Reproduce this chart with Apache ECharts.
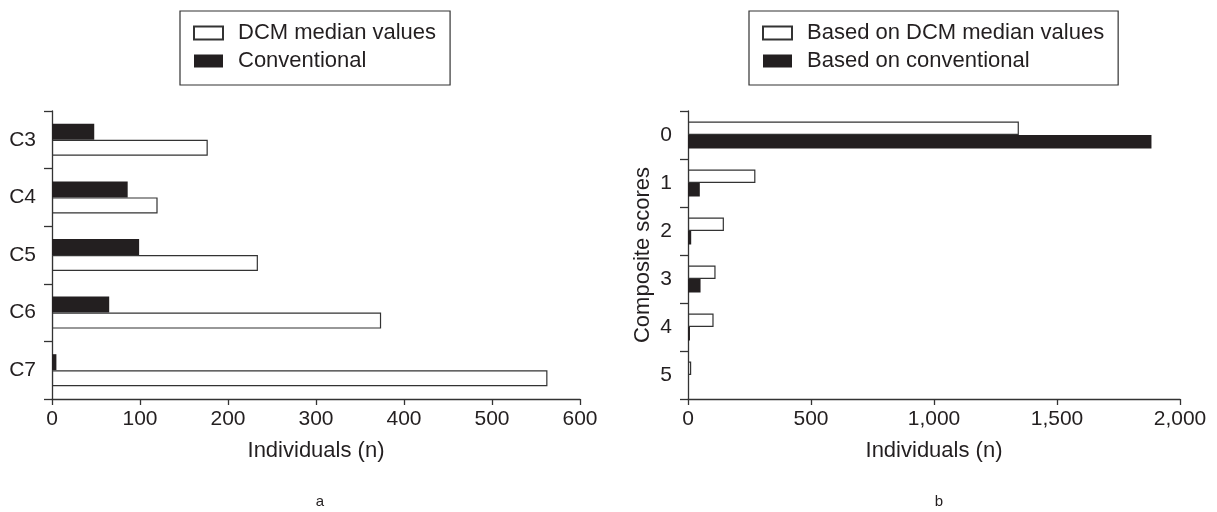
<!DOCTYPE html>
<html><head><meta charset="utf-8">
<script src="https://cdn.jsdelivr.net/npm/echarts@6/dist/echarts.min.js"></script>
<style>html,body{margin:0;padding:0;background:#fff}#c{width:1217px;height:512px}</style>
</head><body><div id="c"></div>
<script>
// Panel a
const catsA = ['C3', 'C4', 'C5', 'C6', 'C7'];
const dcmA = [177, 120, 234, 374, 563];
const convA = [48, 86, 99, 65, 5];
const xTicksA = [0, 100, 200, 300, 400, 500, 600];
// Panel b
const catsB = ['0', '1', '2', '3', '4', '5'];
const dcmB = [1345, 274, 146, 112, 104, 13];
const convB = [1884, 48, 13, 51, 8, 0];
const xTicksB = [0, 500, 1000, 1500, 2000];

const FONT = 'Liberation Sans';
const TXT = '#231f20';
const LINE = '#333333';
const BLACK = '#231f20';

const chart = echarts.init(document.getElementById('c'), null, {renderer: 'canvas'});

function xAxisFor(idx, ticks, fmt) {
  return {
    gridIndex: idx, type: 'value', min: ticks[0], max: ticks[ticks.length - 1],
    interval: ticks[1] - ticks[0],
    name: 'Individuals (n)', nameLocation: 'middle', nameGap: 41,
    nameTextStyle: {fontFamily: FONT, fontSize: 22, color: TXT},
    axisLine: {show: true, lineStyle: {color: LINE, width: 1.3}},
    axisTick: {show: true, length: 6, lineStyle: {color: LINE, width: 1.3}},
    axisLabel: {fontFamily: FONT, fontSize: 21, color: TXT, margin: 10, formatter: fmt},
    splitLine: {show: false}
  };
}
function yAxisFor(idx, cats, extra) {
  return Object.assign({
    gridIndex: idx, type: 'category', data: cats, inverse: true,
    axisLine: {show: true, lineStyle: {color: LINE, width: 1.3}},
    axisTick: {show: true, length: 8, lineStyle: {color: LINE, width: 1.3}},
    axisLabel: {fontFamily: FONT, fontSize: 21, color: TXT, margin: 16},
    splitLine: {show: false}
  }, extra || {});
}
const whiteStyle = {color: '#ffffff', borderColor: LINE, borderWidth: 1.2};
const blackStyle = {color: BLACK, borderColor: BLACK, borderWidth: 0};

const legendCommon = {
  orient: 'vertical', top: 11,
  borderColor: LINE, borderWidth: 1.2,
  padding: [11, 14, 13, 13],
  itemWidth: 29, itemHeight: 13, itemGap: 6,
  icon: 'rect',
  selectedMode: false,
  textStyle: {fontFamily: FONT, fontSize: 22, color: TXT, lineHeight: 22, padding: [0, 0, 0, 10]}
};

chart.setOption({
  animation: false,
  grid: [
    {left: 52, right: 1217 - 580, top: 111, bottom: 512 - 399, containLabel: false},
    {left: 688, right: 1217 - 1180, top: 111, bottom: 512 - 399, containLabel: false}
  ],
  legend: [
    Object.assign({}, legendCommon, {left: 180, data: ['DCM median values', 'Conventional']}),
    Object.assign({}, legendCommon, {left: 749, data: ['Based on DCM median values', 'Based on conventional']})
  ],
  title: [
    {text: 'a', left: 315, top: 489, textAlign: 'center', textStyle: {fontFamily: FONT, fontSize: 15, fontWeight: 'normal', color: TXT}},
    {text: 'b', left: 934, top: 489, textAlign: 'center', textStyle: {fontFamily: FONT, fontSize: 15, fontWeight: 'normal', color: TXT}}
  ],
  xAxis: [
    xAxisFor(0, xTicksA, v => String(v)),
    xAxisFor(1, xTicksB, v => v.toLocaleString('en-US'))
  ],
  yAxis: [
    yAxisFor(0, catsA),
    yAxisFor(1, catsB, {
      name: 'Composite scores', nameLocation: 'middle', nameRotate: 90, nameGap: 34,
      nameTextStyle: {fontFamily: FONT, fontSize: 22, color: TXT}
    })
  ],
  series: [
    {name: 'Conventional', type: 'bar', xAxisIndex: 0, yAxisIndex: 0, data: convA, barWidth: 16, barGap: '0%', itemStyle: blackStyle},
    {name: 'DCM median values', type: 'bar', xAxisIndex: 0, yAxisIndex: 0, data: dcmA, barWidth: 16, barGap: '0%', itemStyle: whiteStyle},
    {name: 'Based on DCM median values', type: 'bar', xAxisIndex: 1, yAxisIndex: 1, data: dcmB, barWidth: 13.5, barGap: '0%', itemStyle: whiteStyle},
    {name: 'Based on conventional', type: 'bar', xAxisIndex: 1, yAxisIndex: 1, data: convB, barWidth: 13.5, barGap: '0%', itemStyle: blackStyle}
  ]
});
</script></body></html>
